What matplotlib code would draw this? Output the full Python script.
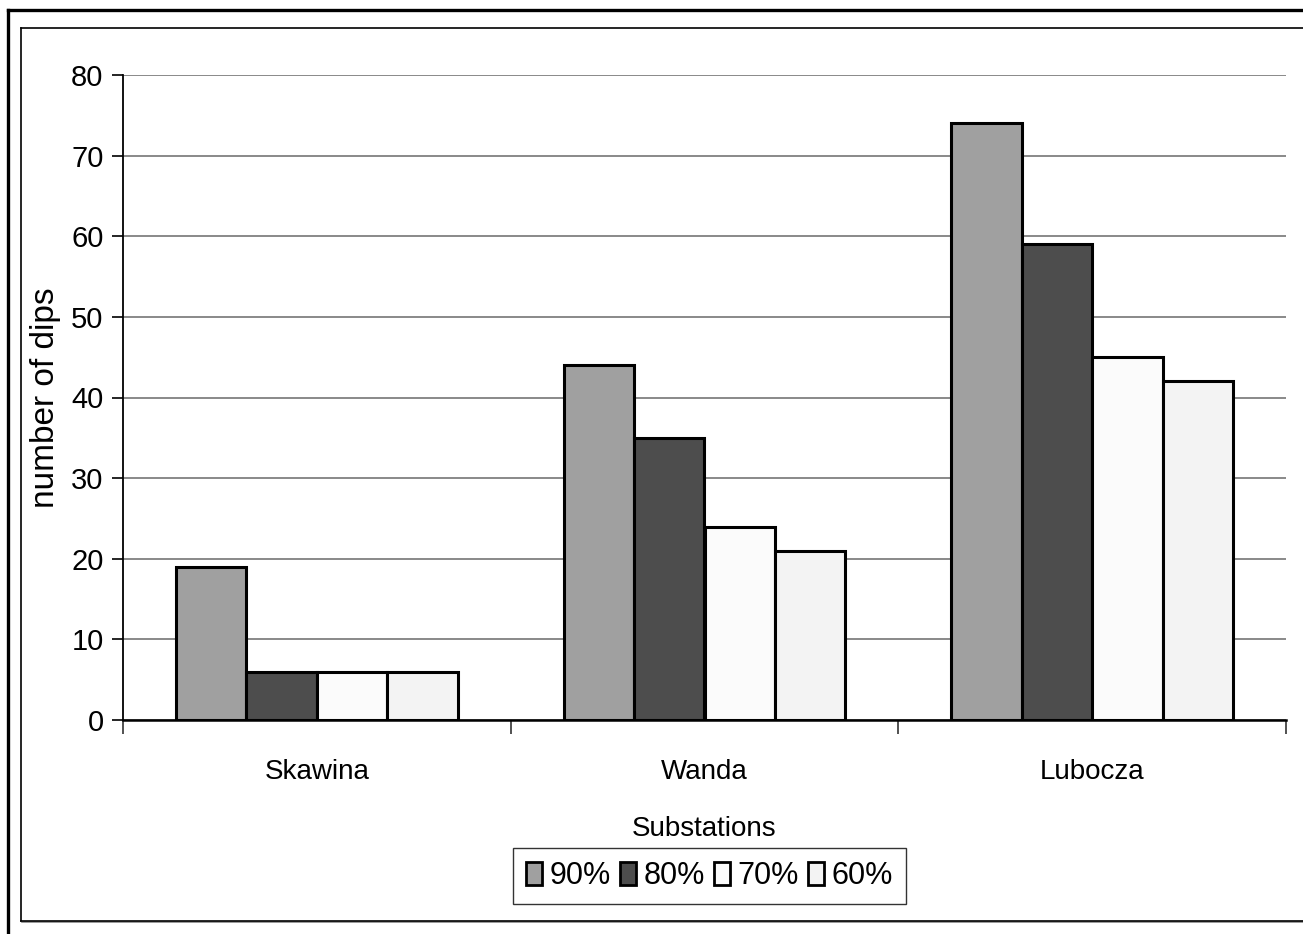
import matplotlib
matplotlib.use("Agg")
import matplotlib.pyplot as plt
from matplotlib.lines import Line2D
from matplotlib.patches import Patch
import numpy as np

plt.rcParams['font.family'] = ['Liberation Sans', 'DejaVu Sans']

categories = ["Skawina", "Wanda", "Lubocza"]
series_labels = ["90%", "80%", "70%", "60%"]
values_90 = [19, 44, 74]
values_80 = [6, 35, 59]
values_70 = [6, 24, 45]
values_60 = [6, 21, 42]
series_values = [values_90, values_80, values_70, values_60]
series_colors = ["#a0a0a0", "#4d4d4d", "#fbfbfb", "#f3f3f3"]
y_ticks = [0, 10, 20, 30, 40, 50, 60, 70, 80]

W, H = 1303, 934
fig = plt.figure(figsize=(W / 100, H / 100), dpi=100)

# chart frames (outer heavy frame and inner chart-area frame)
def fline(x0, y0, x1, y1, lw, color="black"):
    fig.add_artist(Line2D([x0 / W, x1 / W], [1 - y0 / H, 1 - y1 / H],
                          transform=fig.transFigure, lw=lw, color=color,
                          solid_capstyle="projecting"))

fline(8, 10, 8, 940, 2.4)
fline(8, 10, 1310, 10, 2.4)
fline(21, 28, 21, 921, 1.2)
fline(21, 28, 1310, 28, 1.2)
fline(22, 922, 1310, 922, 1.2, "#888888")
fline(21, 921, 1310, 921, 1.2)

left, right, top, bottom = 123, 1286, 75, 720
ax = fig.add_axes([left / W, 1 - bottom / H, (right - left) / W, (bottom - top) / H])

n = len(series_values)
group_w = 0.727
bar_w = group_w / n
x = np.arange(len(categories))
for i, (vals, col, lab) in enumerate(zip(series_values, series_colors, series_labels)):
    offs = -group_w / 2 + bar_w * (i + 0.5)
    ax.bar(x + offs, vals, width=bar_w, color=col, edgecolor="black",
           linewidth=2.2, label=lab, zorder=3)

ax.set_xlim(-0.5, len(categories) - 0.5)
ax.set_ylim(0, 80)
ax.set_yticks(y_ticks)
ax.yaxis.grid(True, color="#808080", linewidth=1.3, zorder=0)
ax.set_axisbelow(True)

ax.set_xticks(np.arange(len(categories) + 1) - 0.5)
ax.set_xticklabels([])
ax.set_xticks(x, minor=True)
ax.set_xticklabels(categories, minor=True, fontsize=20)
ax.tick_params(axis="x", which="major", direction="out", length=10, width=1.2, color="#333333")
ax.tick_params(axis="x", which="minor", length=0, pad=28)
ax.tick_params(axis="y", direction="out", length=8, width=1.2, labelsize=21, pad=6)

for s in ["top", "right"]:
    ax.spines[s].set_visible(False)
ax.spines["left"].set_linewidth(1.3)
ax.spines["bottom"].set_linewidth(1.8)

ax.set_ylabel("number of dips", fontsize=24, va="center")
ax.yaxis.set_label_coords((46 - left) / (right - left), 0.5)
ax.set_xlabel("Substations", fontsize=20, va="center")
ax.xaxis.set_label_coords(0.5, (bottom - 829) / (bottom - top))

handles = [Patch(facecolor=c, edgecolor="black", linewidth=2.0) for c in series_colors]
leg = fig.legend(handles, series_labels, loc="center", ncol=4,
                 bbox_to_anchor=((512 + 907) / 2 / W, 1 - 876 / H),
                 fontsize=22, frameon=True, fancybox=False, edgecolor="black",
                 handlelength=0.52, handleheight=0.8, handletextpad=0.25,
                 columnspacing=0.3, borderpad=0.42, borderaxespad=0)
leg.get_frame().set_linewidth(1.0)

fig.savefig("out.png", dpi=100, facecolor="white")
